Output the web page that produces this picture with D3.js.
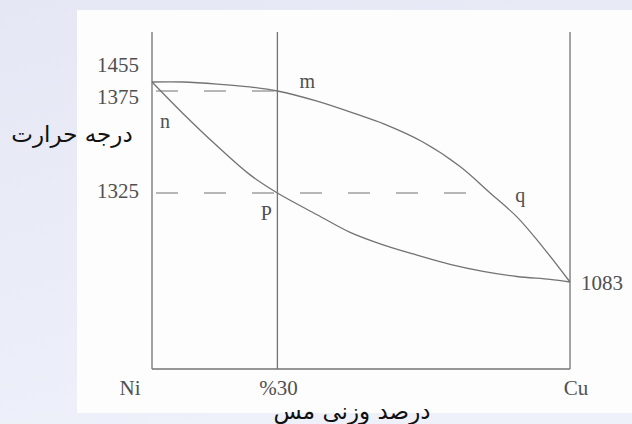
<!doctype html>
<html lang="fa">
<head>
	<meta charset="UTF-8">
	<title>Ni-Cu</title>
	<script src="https://cdn.jsdelivr.net/npm/d3@7"></script>
	<style>
		body { margin: 0; }
		svg { display: block; }
	</style>
</head>
<body>
<script>
	// composition in % Cu, temperature in C (schematic diagram)
	var liquidusPct  = [0, 7.4, 15.6, 23.4, 30, 39.5, 49.8, 55.3, 64.8, 73.7, 80.9, 87.3, 93.5, 100];
	var liquidusTemp = [1455, 1455, 1437, 1411, 1375, 1370, 1363, 1359, 1350, 1338, 1325, 1260, 1178, 1083];
	var solidusPct   = [0, 7.4, 15.6, 23.4, 30, 39.5, 47.4, 55.3, 63.4, 71.3, 79.2, 87.3, 95.2, 100];
	var solidusTemp  = [1455, 1364, 1348, 1334, 1325, 1266, 1218, 1184, 1156, 1131, 1112, 1098, 1090, 1083];
	var tempTicks = [1455, 1375, 1325, 1083];
	var compTicks = [0, 30, 100];
	var compLabels = ["Ni", "%30", "Cu"];
	var tieLines = [ { t: 1375, to: 30 }, { t: 1325, to: 80.9 } ];
	var points = [
		{ name: "m", pct: 30, t: 1375 },
		{ name: "n", pct: 7.4, t: 1364 },
		{ name: "P", pct: 30, t: 1325 },
		{ name: "q", pct: 80.9, t: 1325 }
	];
	var yTitle = "درجه حرارت";
	var xTitle = "درصد وزنی مس";

	var w = 632, h = 424, frameTop = 32, frameBottom = 369;

	var x = d3.scaleLinear().domain([0, 100]).range([152, 570]);
	// the drawing is not to scale, so the temperature axis is piecewise
	var y = d3.scaleLinear().domain([1083, 1325, 1375, 1455]).range([282, 193, 91, 82]);

	var svg = d3.select("body").append("svg").attr("width", w).attr("height", h);

	var grad = svg.append("defs").append("linearGradient")
		.attr("id", "bg").attr("x1", 0).attr("y1", 0).attr("x2", 0.4).attr("y2", 1);
	grad.append("stop").attr("offset", 0).attr("stop-color", "#e5e7f4");
	grad.append("stop").attr("offset", 1).attr("stop-color", "#eef0fa");

	svg.append("rect").attr("width", w).attr("height", h).attr("fill", "url(#bg)");
	svg.append("rect").attr("x", 77).attr("y", 10).attr("width", w - 77).attr("height", 403).attr("fill", "#fdfdfd");

	var ink = "#737373", txt = "#505050";
	var g = svg.append("g");

	// frame: verticals at Ni, 30% and Cu, plus the base line
	g.selectAll("line.v")
		.data(compTicks)
		.enter().append("line")
		.attr("class", "v")
		.attr("x1", function(d) { return x(d); })
		.attr("x2", function(d) { return x(d); })
		.attr("y1", frameTop).attr("y2", frameBottom)
		.attr("stroke", ink).attr("stroke-width", 1.3);

	g.append("line")
		.attr("x1", x(0)).attr("x2", x(100))
		.attr("y1", frameBottom).attr("y2", frameBottom)
		.attr("stroke", ink).attr("stroke-width", 1.3);

	g.selectAll("line.tie")
		.data(tieLines)
		.enter().append("line")
		.attr("class", "tie")
		.attr("x1", x(0) + 4)
		.attr("x2", function(d) { return x(d.to); })
		.attr("y1", function(d) { return y(d.t); })
		.attr("y2", function(d) { return y(d.t); })
		.attr("stroke", ink).attr("stroke-width", 1.2)
		.attr("stroke-dasharray", "22,26");

	var line = d3.line()
		.x(function(d) { return x(d[0]); })
		.y(function(d) { return y(d[1]); })
		.curve(d3.curveCatmullRom.alpha(0.5));

	var curves = [d3.zip(liquidusPct, liquidusTemp), d3.zip(solidusPct, solidusTemp)];
	g.selectAll("path.curve")
		.data(curves)
		.enter().append("path")
		.attr("class", "curve")
		.attr("d", line)
		.attr("fill", "none")
		.attr("stroke", ink).attr("stroke-width", 1.3);

	// temperature labels, spread apart where they would collide
	var nudge = { 1455: -10, 1375: 13, 1325: 5, 1083: 8 };
	g.selectAll("text.temp")
		.data(tempTicks)
		.enter().append("text")
		.attr("class", "temp")
		.text(function(d) { return d; })
		.attr("x", function(d) { return d === 1083 ? x(100) + 11 : x(0) - 13; })
		.attr("y", function(d) { return y(d) + nudge[d]; })
		.attr("text-anchor", function(d) { return d === 1083 ? "start" : "end"; })
		.attr("font-family", "Liberation Serif")
		.attr("font-size", "21px")
		.attr("fill", txt);

	g.selectAll("text.comp")
		.data(compTicks)
		.enter().append("text")
		.attr("class", "comp")
		.text(function(d, i) { return compLabels[i]; })
		.attr("x", function(d, i) { return x(d) + [-22, 1, 6][i]; })
		.attr("y", frameBottom + 26)
		.attr("text-anchor", "middle")
		.attr("font-family", "Liberation Serif")
		.attr("font-size", "21px")
		.attr("fill", txt);

	var pointOffset = { m: [30, -3], n: [-18, 15], P: [-11, 27], q: [30, 9] };
	g.selectAll("text.pt")
		.data(points)
		.enter().append("text")
		.attr("class", "pt")
		.text(function(d) { return d.name; })
		.attr("x", function(d) { return x(d.pct) + pointOffset[d.name][0]; })
		.attr("y", function(d) { return y(d.t) + pointOffset[d.name][1]; })
		.attr("text-anchor", "middle")
		.attr("font-family", "Liberation Serif")
		.attr("font-size", "20px")
		.attr("fill", txt);

	svg.append("text")
		.text(yTitle)
		.attr("x", 72).attr("y", 142)
		.attr("text-anchor", "middle")
		.attr("font-family", "DejaVu Sans")
		.attr("font-size", "23px")
		.attr("fill", "#111");

	svg.append("text")
		.text(xTitle)
		.attr("x", 352).attr("y", 419)
		.attr("text-anchor", "middle")
		.attr("font-family", "DejaVu Sans")
		.attr("font-size", "23px")
		.attr("fill", "#111");
</script>
</body>
</html>
